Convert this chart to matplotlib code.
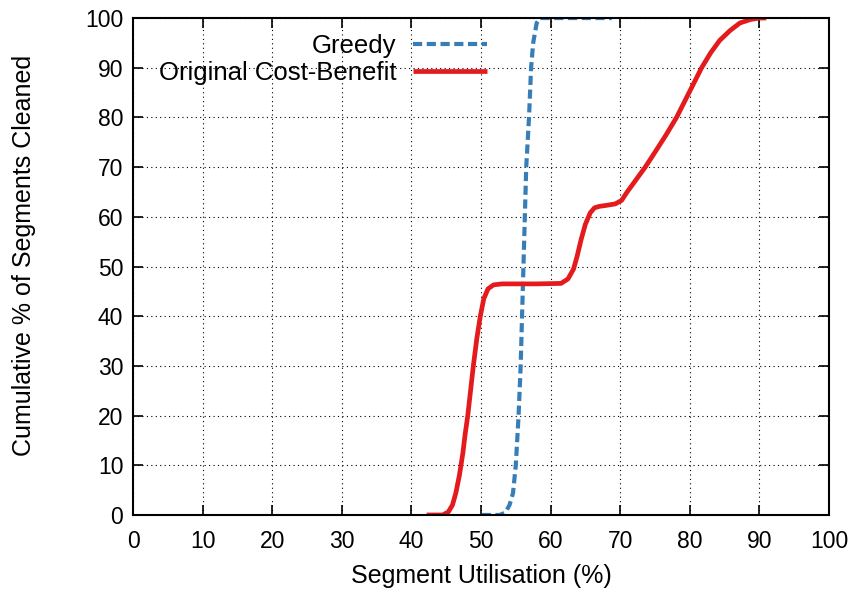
import matplotlib.pyplot as plt

plt.rcParams['font.family'] = ['Liberation Sans', 'DejaVu Sans']

# cumulative distribution of segment utilisation at cleaning time
greedy_x = [50.1, 52.7, 53.5, 54.1, 54.6, 55.0, 55.4, 55.7, 55.9, 56.1, 56.3,
            56.5, 56.7, 56.9, 57.2, 57.5, 58.0, 58.5, 68.8]
greedy_y = [0, 0, 0.5, 2, 4.4, 10, 20, 30, 40, 50, 60,
            70, 75, 80, 90, 95, 99, 100, 100]

cb_x = [42.2, 44.5, 45.3, 45.9, 46.4, 46.9, 47.4, 47.7, 48.1, 48.5, 48.9, 49.4,
        49.9, 50.4, 51.0, 51.8, 53.0, 58.0, 61.5, 62.5, 63.3, 63.8, 64.4, 65.0,
        65.7, 66.3, 67.0, 68.0, 69.3, 70.2, 71.0, 72.3, 73.6, 75.0, 76.6, 78.1,
        79.9, 81.7, 83.0, 84.3, 85.8, 87.2, 88.7, 90.0, 91.0]
cb_y = [0, 0, 0.6, 2, 4.5, 8, 12.5, 16, 20, 25, 30, 35.5,
        40, 43.5, 45.5, 46.3, 46.5, 46.5, 46.6, 47.5, 49.5, 52, 55.5, 58.5,
        60.8, 61.8, 62.1, 62.3, 62.6, 63.3, 65, 67.5, 70, 73, 76.5, 80,
        85, 90, 93, 95.5, 97.5, 99, 99.7, 100, 100]

ticks = list(range(0, 101, 10))

fig = plt.figure(figsize=(8.57, 5.95), dpi=100)
ax = fig.add_axes([0.1552, 0.1345, 0.8121, 0.8352])

ax.plot(greedy_x, greedy_y, color='#377eb8', lw=3.0, linestyle=(0, (2.2, 1.1)),
        label='Greedy')
ax.plot(cb_x, cb_y, color='#e41a1c', lw=3.4, label='Original Cost-Benefit',
        solid_capstyle='butt')

ax.set_xlim(0, 100)
ax.set_ylim(0, 100)
ax.set_xticks(ticks)
ax.set_yticks(ticks)
ax.grid(True, color='black', linestyle=(0, (1, 3)), lw=0.8)
ax.tick_params(direction='in', top=True, right=True, length=7, width=1.2,
               labelsize=16.5)
ax.tick_params(axis='x', pad=11)
ax.tick_params(axis='y', pad=7)
for sp in ax.spines.values():
    sp.set_linewidth(1.5)

ax.set_xlabel('Segment Utilisation (%)', fontsize=18)
ax.set_ylabel('Cumulative % of Segments Cleaned', fontsize=18)
ax.xaxis.set_label_coords(0.5, -0.099)
ax.yaxis.set_label_coords(-0.140, 0.523)

leg = ax.legend(loc='upper right', bbox_to_anchor=(0.509, 0.968), frameon=False,
                markerfirst=False, fontsize=18.5, handlelength=2.9,
                handletextpad=0.65, labelspacing=0.1, borderpad=0,
                borderaxespad=0)
for t in leg.get_texts():
    t.set_ha('right')

fig.savefig('out.png', dpi=100)
